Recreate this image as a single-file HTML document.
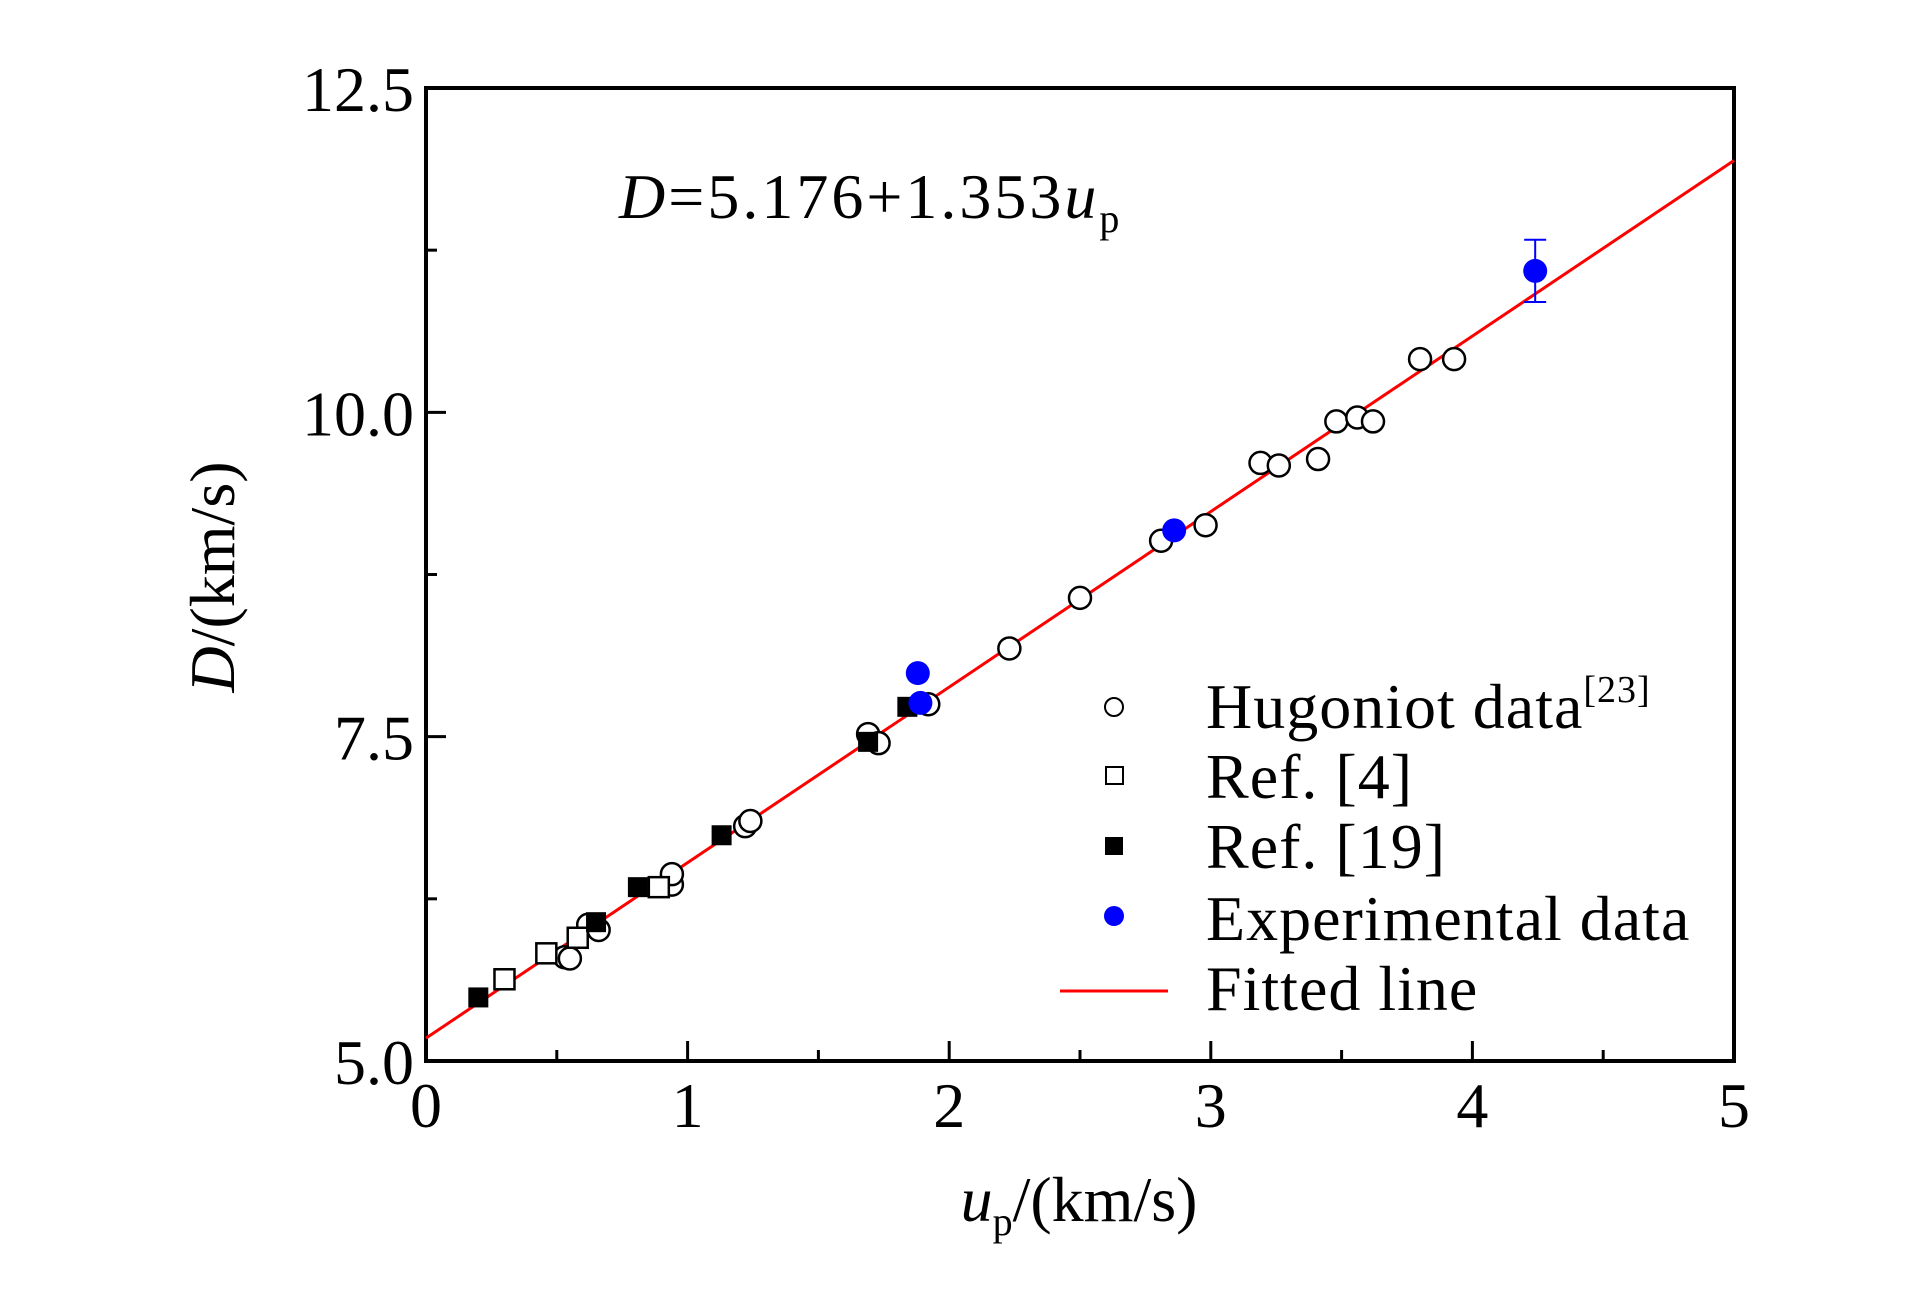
<!DOCTYPE html>
<html><head><meta charset="utf-8"><style>
html,body{margin:0;padding:0;background:#fff;}
svg{display:block;}
text{font-family:"Liberation Serif",serif;fill:#000;}
</style></head><body>
<svg id="chart" width="1923" height="1299" viewBox="0 0 1923 1299">
<g id="axes"></g><g id="marks"></g>
<text x="619" y="218" font-size="64" letter-spacing="3"><tspan font-style="italic">D</tspan>=5.176+1.353<tspan font-style="italic">u</tspan><tspan font-size="40" dy="14">p</tspan></text>
<text transform="translate(234,577) rotate(-90)" text-anchor="middle" font-size="64"><tspan font-style="italic">D</tspan>/(km/s)</text>
<text x="1079" y="1221" text-anchor="middle" font-size="64"><tspan font-style="italic">u</tspan><tspan font-size="40" dy="14">p</tspan><tspan dy="-14">/(km/s)</tspan></text>
<g>
<circle cx="1114" cy="707" r="9" fill="#fff" stroke="#000" stroke-width="2"/>
<text x="1206" y="728" font-size="64" letter-spacing="1">Hugoniot data<tspan font-size="38" dy="-26">[23]</tspan></text>
<rect x="1106" y="767" width="17" height="17" fill="#fff" stroke="#000" stroke-width="2"/>
<text x="1206" y="798" font-size="64" letter-spacing="1">Ref. [4]</text>
<rect x="1105" y="837" width="18" height="18" fill="#000"/>
<text x="1206" y="868" font-size="64" letter-spacing="1">Ref. [19]</text>
<circle cx="1114" cy="916" r="10" fill="#0000ff"/>
<text x="1206" y="940" font-size="64" letter-spacing="1">Experimental data</text>
<line x1="1060" y1="991" x2="1168" y2="991" stroke="#ff0000" stroke-width="3"/>
<text x="1206" y="1010" font-size="64" letter-spacing="1">Fitted line</text>
</g>
</svg>
<script>
const xTicks=[0,1,2,3,4,5];
const xTickLabels=["0","1","2","3","4","5"];
const yTicks=[5,7.5,10,12.5];
const yTickLabels=["5.0","7.5","10.0","12.5"];
const hugX=[0.53,0.55,0.62,0.66,0.94,0.94,1.22,1.24,1.69,1.73,1.92,2.23,2.50,2.81,2.98,3.19,3.26,3.41,3.48,3.56,3.62,3.80,3.93];
const hugY=[5.80,5.79,6.05,6.01,6.36,6.44,6.81,6.85,7.52,7.45,7.75,8.18,8.57,9.01,9.13,9.61,9.59,9.64,9.93,9.96,9.93,10.41,10.41];
const ref4X=[0.30,0.46,0.58,0.89];
const ref4Y=[5.63,5.83,5.95,6.34];
const ref19X=[0.20,0.65,0.81,1.13,1.69,1.84];
const ref19Y=[5.49,6.07,6.34,6.74,7.46,7.73];
const expX=[1.88,1.89,2.86,4.24];
const expY=[7.99,7.76,9.09,11.09];
const expErr=[0,0,0,0.24];
const fitA=5.176, fitB=1.353;

const L=426,R=1734,T=88,B=1061;
const sx=v=>L+(v-0)/(5-0)*(R-L);
const sy=v=>B-(v-5)/(12.5-5)*(B-T);
const NS='http://www.w3.org/2000/svg';
const axes=document.getElementById('axes'), marks=document.getElementById('marks');
function mk(tag,attrs,parent){const e=document.createElementNS(NS,tag);for(const k in attrs)e.setAttribute(k,attrs[k]);parent.appendChild(e);return e;}

const fl=mk('line',{x1:sx(0),y1:sy(fitA),x2:sx(5),y2:sy(fitA+fitB*5),stroke:'#ff0000','stroke-width':3},marks);



hugX.forEach((x,i)=>{const c=mk('circle',{cx:sx(x),cy:sy(hugY[i]),r:11,fill:'#fff',stroke:'#000','stroke-width':2.5},marks);

});
ref4X.forEach((x,i)=>{const c=mk('rect',{x:sx(x)-10,y:sy(ref4Y[i])-10,width:20,height:20,fill:'#fff',stroke:'#000','stroke-width':2.5},marks);

});
ref19X.forEach((x,i)=>{const c=mk('rect',{x:sx(x)-10,y:sy(ref19Y[i])-10,width:20,height:20,fill:'#000'},marks);

});
expX.forEach((x,i)=>{
 if(expErr[i]>0){const cx=sx(x),y1=sy(expY[i]+expErr[i]),y2=sy(expY[i]-expErr[i]);
  const g=mk('path',{d:`M${cx},${y1}V${y2}M${cx-11},${y1}H${cx+11}M${cx-11},${y2}H${cx+11}`,stroke:'#0000ff','stroke-width':2,fill:'none'},marks);
  
  }
 const c=mk('circle',{cx:sx(x),cy:sy(expY[i]),r:12,fill:'#0000ff'},marks);
 
 });

const fr=mk('rect',{x:L,y:T,width:R-L,height:B-T,fill:'none',stroke:'#000','stroke-width':4},axes);


xTicks.forEach((v,i)=>{
 const t=mk('line',{x1:sx(v),y1:B,x2:sx(v),y2:B-20,stroke:'#000','stroke-width':3},axes);
 
 
 if(i<xTicks.length-1){const m=mk('line',{x1:sx(v+0.5),y1:B,x2:sx(v+0.5),y2:B-11,stroke:'#000','stroke-width':3},axes);
 
 }
 const tx=mk('text',{x:sx(v),y:1127,'text-anchor':'middle','font-size':64},axes);tx.textContent=xTickLabels[i];
 
 
});
yTicks.forEach((v,i)=>{
 const t=mk('line',{x1:L,y1:sy(v),x2:L+20,y2:sy(v),stroke:'#000','stroke-width':3},axes);
 
 
 if(i<yTicks.length-1){const m=mk('line',{x1:L,y1:sy(v+1.25),x2:L+11,y2:sy(v+1.25),stroke:'#000','stroke-width':3},axes);
 
 }
 const tx=mk('text',{x:414,y:sy(v)+23,'text-anchor':'end','font-size':64},axes);tx.textContent=yTickLabels[i];
 
 
});
</script>
</body></html>
